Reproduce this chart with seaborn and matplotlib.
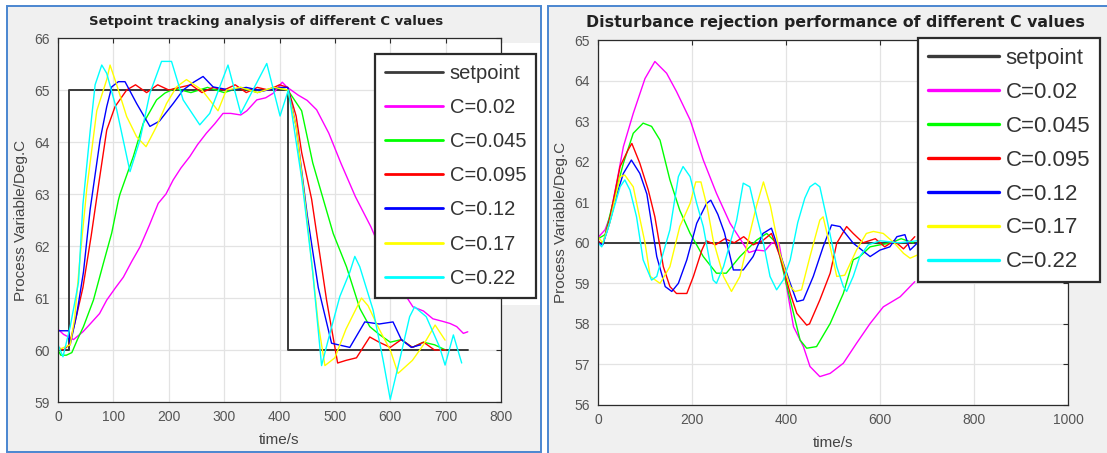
import matplotlib
matplotlib.use("Agg")
import matplotlib.pyplot as plt
import pandas as pd
import seaborn as sns
from matplotlib.lines import Line2D
from matplotlib.patches import Rectangle


# Left panel: setpoint tracking
SP_L_T = [0, 20, 20, 415, 415, 740]
SP_L_V = [60, 60, 65, 65, 60, 60]

MAG_L_T = [0, 10, 28, 45, 58, 75, 88, 104, 118, 133, 148, 165, 181, 195, 208, 222, 238, 252,
           268, 283, 298, 312, 330, 341, 359, 375, 389, 405, 413, 434, 450, 467, 489, 511, 537,
           565, 600, 641, 660, 677, 695, 708, 720, 732, 740]
MAG_L_V = [60.4, 60.3, 60.2, 60.35, 60.5, 60.7, 60.96, 61.2, 61.4, 61.7, 61.98, 62.4, 62.82, 63.0,
           63.27, 63.5, 63.72, 63.95, 64.17, 64.35, 64.55, 64.55, 64.52, 64.6, 64.81, 64.85, 64.94,
           65.15, 65.06, 64.9, 64.8, 64.62, 64.17, 63.59, 62.95, 62.37, 61.5, 60.83, 60.75, 60.6,
           60.55, 60.51, 60.45, 60.32, 60.35]

GRN_L_T = [0, 5, 15, 25, 35, 46, 64, 82, 97, 109, 112, 136, 154, 178, 193, 211, 240, 270, 300,
           330, 360, 390, 415, 440, 460, 479, 497, 521, 545, 563, 580, 600, 620, 640, 660, 680, 700]
GRN_L_V = [60.0, 59.9, 59.9, 59.95, 60.2, 60.45, 60.96, 61.67, 62.25, 62.88, 63.0, 63.72, 64.36,
           64.81, 64.94, 65.03, 64.95, 65.05, 64.95, 65.05, 64.95, 65.05, 65.0, 64.6, 63.6, 62.9,
           62.24, 61.6, 60.8, 60.45, 60.3, 60.15, 60.2, 60.05, 60.15, 60.1, 60.0]

RED_L_T = [0, 10, 20, 30, 45, 60, 75, 88, 103, 124, 140, 160, 180, 200, 220, 240, 260, 280, 300,
           320, 340, 360, 380, 400, 415, 430, 440, 458, 485, 505, 520, 539, 563, 580, 600, 620,
           640, 660, 680, 700]
RED_L_V = [60.05, 60.0, 60.1, 60.5, 61.2, 62.2, 63.3, 64.23, 64.68, 65.0, 65.1, 64.95, 65.1, 65.0,
           65.05, 65.1, 64.95, 65.05, 65.0, 65.1, 64.95, 65.05, 65.0, 65.1, 65.05, 64.5, 63.8,
           62.9, 60.96, 59.75, 59.8, 59.85, 60.25, 60.15, 60.05, 60.2, 60.05, 60.15, 60.0, 60.0]

BLU_L_T = [0, 19, 22, 34, 46, 58, 76, 88, 97, 109, 121, 142, 166, 183, 208, 226, 245, 262, 280,
           310, 340, 370, 400, 415, 430, 450, 470, 494, 527, 554, 580, 605, 620, 638, 655]
BLU_L_V = [60.37, 60.37, 60.1, 60.7, 61.5, 62.7, 64.04, 64.68, 65.06, 65.16, 65.16, 64.74, 64.3,
           64.4, 64.74, 65.0, 65.15, 65.26, 65.06, 65.0, 65.05, 64.98, 65.05, 65.05, 64.3, 62.6,
           61.2, 60.13, 60.05, 60.54, 60.5, 60.54, 60.2, 60.05, 60.1]

YEL_L_T = [0, 22, 30, 40, 52, 70, 88, 94, 106, 124, 142, 159, 178, 196, 214, 232, 260, 289, 304,
           330, 360, 390, 415, 430, 450, 470, 482, 500, 520, 548, 560, 580, 600, 614, 640, 660,
           681, 699]
YEL_L_V = [60.0, 60.1, 60.6, 61.8, 63.1, 64.6, 65.2, 65.48, 65.1, 64.49, 64.1, 63.91, 64.3, 64.74,
           65.06, 65.2, 65.0, 64.6, 65.0, 65.05, 64.95, 65.05, 65.0, 64.3, 62.5, 60.5, 59.7, 59.85,
           60.4, 61.0, 60.85, 60.4, 60.0, 59.55, 59.8, 60.1, 60.48, 60.19]

CYA_L_T = [0, 9, 22, 30, 37, 45, 58, 67, 79, 88, 106, 130, 148, 166, 187, 205, 226, 256, 274,
           307, 330, 377, 401, 416, 440, 460, 476, 491, 509, 527, 536, 545, 569, 587, 600, 617,
           635, 644, 665, 689, 699, 714, 729]
CYA_L_V = [60.1, 59.87, 60.45, 60.9, 61.3, 62.8, 64.2, 65.1, 65.48, 65.32, 64.62, 63.43, 64.04,
           64.94, 65.55, 65.55, 64.81, 64.33, 64.55, 65.48, 64.55, 65.51, 64.5, 65.0, 63.3, 61.5,
           59.7, 60.32, 61.03, 61.5, 61.8, 61.6, 60.77, 59.81, 59.05, 59.81, 60.64, 60.83, 60.64,
           60.06, 59.71, 60.29, 59.75]

# Right panel: disturbance rejection
SP_R_T = [0, 680]
SP_R_V = [60, 60]

MAG_R_T = [0, 15, 26, 40, 54, 75, 100, 121, 146, 167, 196, 224, 252, 281, 295, 321, 338, 355,
           370, 385, 400, 416, 437, 451, 472, 494, 522, 550, 579, 607, 643, 674]
MAG_R_V = [60.13, 60.32, 60.66, 61.5, 62.37, 63.19, 64.05, 64.47, 64.18, 63.73, 63.03, 62.04,
           61.22, 60.48, 60.23, 59.76, 59.82, 59.8, 60.0, 60.0, 59.0, 57.93, 57.44, 56.95, 56.7,
           56.78, 57.03, 57.52, 58.01, 58.42, 58.67, 59.04]

GRN_R_T = [0, 15, 30, 54, 75, 96, 114, 132, 153, 174, 196, 224, 252, 273, 302, 338, 359, 380,
           409, 430, 444, 465, 494, 522, 543, 557, 579, 600, 621, 645, 671]
GRN_R_V = [60.1, 60.2, 60.9, 61.96, 62.7, 62.95, 62.87, 62.53, 61.55, 60.8, 60.23, 59.66, 59.25,
           59.25, 59.66, 60.07, 60.23, 59.99, 58.59, 57.6, 57.4, 57.44, 58.01, 58.75, 59.58, 59.66,
           59.9, 59.95, 59.99, 60.1, 60.0]

RED_R_T = [0, 10, 25, 47, 64, 72, 89, 107, 121, 139, 153, 167, 189, 203, 221, 230, 250, 270, 290,
           310, 330, 350, 369, 387, 409, 423, 444, 450, 472, 494, 508, 529, 543, 564, 590, 610,
           630, 650, 674]
RED_R_V = [60.05, 59.95, 60.6, 61.88, 62.29, 62.45, 61.96, 61.3, 60.64, 59.41, 58.92, 58.75,
           58.75, 59.17, 59.82, 60.05, 59.95, 60.1, 60.0, 60.15, 59.95, 60.05, 60.23, 59.67, 58.75,
           58.26, 57.97, 58.0, 58.59, 59.25, 59.99, 60.4, 60.23, 60.0, 60.1, 59.9, 60.05, 59.85,
           60.15]

BLU_R_T = [0, 10, 25, 40, 54, 71, 89, 104, 115, 125, 143, 157, 171, 189, 210, 231, 240, 255, 269,
           288, 309, 330, 351, 369, 387, 409, 423, 437, 458, 479, 497, 515, 543, 579, 600, 621,
           636, 653, 664, 680]
BLU_R_V = [60.0, 59.95, 60.5, 61.2, 61.71, 62.04, 61.71, 61.2, 60.4, 59.66, 58.92, 58.8, 59.0,
           59.58, 60.48, 60.97, 61.05, 60.7, 60.25, 59.33, 59.33, 59.66, 60.23, 60.36, 59.74, 59.0,
           58.55, 58.59, 59.17, 59.9, 60.44, 60.4, 59.99, 59.66, 59.82, 59.9, 60.15, 60.2, 59.82,
           60.0]

YEL_R_T = [0, 10, 25, 47, 57, 75, 89, 100, 111, 132, 153, 174, 196, 208, 219, 232, 245, 267, 284,
           302, 323, 337, 352, 367, 387, 409, 419, 433, 451, 472, 479, 494, 508, 525, 550, 571,
           586, 607, 630, 650, 664, 680]
YEL_R_V = [60.15, 60.0, 60.5, 61.63, 61.67, 61.38, 60.6, 60.0, 59.17, 59.0, 59.41, 60.4, 60.97,
           61.5, 61.5, 60.9, 60.07, 59.17, 58.8, 59.17, 60.23, 60.9, 61.5, 60.9, 59.74, 58.92,
           58.8, 58.84, 59.66, 60.56, 60.64, 59.9, 59.17, 59.2, 59.82, 60.23, 60.28, 60.23, 60.0,
           59.74, 59.62, 59.7]

CYA_R_T = [0, 8, 20, 35, 47, 57, 68, 82, 96, 114, 125, 140, 153, 171, 181, 196, 210, 224, 245,
           252, 267, 281, 295, 309, 323, 338, 352, 366, 380, 394, 409, 425, 440, 451, 462, 472,
           486, 508, 522, 529, 543, 557, 575, 600, 640, 680]
CYA_R_V = [60.0, 59.9, 60.3, 60.9, 61.38, 61.55, 61.3, 60.64, 59.58, 59.08, 59.17, 59.8, 60.32,
           61.63, 61.88, 61.63, 60.97, 60.4, 59.08, 59.0, 59.41, 59.99, 60.56, 61.47, 61.38, 60.64,
           59.99, 59.17, 58.84, 59.08, 59.58, 60.5, 61.1, 61.38, 61.47, 61.38, 60.64, 59.41, 58.92,
           58.8, 59.17, 59.66, 59.95, 60.05, 60.0, 60.05]

LABELS = ["setpoint", "C=0.02", "C=0.045", "C=0.095", "C=0.12", "C=0.17", "C=0.22"]
COLORS = {
    "setpoint": "#3a3a3a",
    "C=0.02": "#ff00ff",
    "C=0.045": "#00ff00",
    "C=0.095": "#ff0000",
    "C=0.12": "#0000ff",
    "C=0.17": "#ffff00",
    "C=0.22": "#00ffff",
}

W, H = 1107, 453


def to_long(series):
    frames = []
    for label, (t, v) in zip(LABELS[1:], series):
        frames.append(pd.DataFrame({"time": t, "value": v, "curve": label}))
    return pd.concat(frames, ignore_index=True)


def fig_box(x0, y0, x1, y1):
    # pixel box (top-left origin) -> figure fraction rect
    return [x0 / W, 1 - y1 / H, (x1 - x0) / W, (y1 - y0) / H]


def draw_panel(ax, sp_t, sp_v, series, xlim, ylim, xticks, yticks):
    sp = pd.DataFrame({"time": sp_t, "value": sp_v})
    sns.lineplot(data=sp, x="time", y="value", color=COLORS["setpoint"], sort=False,
                 estimator=None, linewidth=1.4, ax=ax)
    df = to_long(series)
    sns.lineplot(data=df, x="time", y="value", hue="curve", hue_order=LABELS[1:],
                 palette=COLORS, sort=False, estimator=None, linewidth=1.0, legend=False, ax=ax)

    ax.set_xlim(*xlim)
    ax.set_ylim(*ylim)
    ax.set_xticks(xticks)
    ax.set_yticks(yticks)
    ax.set_facecolor("white")
    ax.grid(True, color="#e3e3e3", linewidth=0.9)
    ax.set_axisbelow(True)
    for s in ax.spines.values():
        s.set_color("#2b2b2b")
        s.set_linewidth(0.9)
    ax.tick_params(direction="in", length=3.5, top=True, right=True, color="#2b2b2b",
                   labelcolor="#555555", labelsize=10, pad=6)
    ax.set_xlabel("time/s", fontsize=11, color="#444444", labelpad=6)
    ax.set_ylabel("Process Variable/Deg.C", fontsize=11, color="#444444", labelpad=4)


def add_legend(ax, anchor, size, lw, spacing, pad, hlen):
    handles = [Line2D([], [], color=COLORS[l], linewidth=lw) for l in LABELS]
    leg = ax.legend(handles, LABELS, loc="upper left", bbox_to_anchor=anchor,
                    bbox_transform=ax.figure.transFigure, frameon=True, fancybox=False,
                    framealpha=1, edgecolor="#2b2b2b", facecolor="white",
                    borderpad=pad, labelspacing=spacing, handlelength=hlen, handletextpad=0.3,
                    borderaxespad=0,
                    prop={"family": ["Liberation Sans", "DejaVu Sans"], "size": size})
    leg.get_frame().set_linewidth(1.6)
    for t in leg.get_texts():
        t.set_color("#333333")
    return leg


def main():
    sns.set_style("white")
    plt.rcParams["font.family"] = ["Liberation Sans", "DejaVu Sans"]

    fig = plt.figure(figsize=(W / 100, H / 100), dpi=100)
    fig.patch.set_facecolor("white")

    # panel frames, kept behind the axes
    fig.add_artist(Rectangle((7 / W, 1 - 452 / H), 534 / W, 446 / H, transform=fig.transFigure,
                             facecolor="#f0f0f0", edgecolor="#4a86d0", linewidth=1.4,
                             zorder=-10))
    fig.add_artist(Rectangle((548 / W, -0.02), 0.6, 1.02 - 6 / H, transform=fig.transFigure,
                             facecolor="#f0f0f0", edgecolor="#4a86d0", linewidth=1.4,
                             zorder=-10))
    # white strip left by the legend in the left panel
    fig.add_artist(Rectangle((501 / W, 1 - 305 / H), 39 / W, 262 / H, transform=fig.transFigure,
                             facecolor="white", edgecolor="none", zorder=-5))

    ax1 = fig.add_axes(fig_box(58, 38, 501, 402))
    draw_panel(ax1, SP_L_T, SP_L_V,
               [(MAG_L_T, MAG_L_V), (GRN_L_T, GRN_L_V), (RED_L_T, RED_L_V),
                (BLU_L_T, BLU_L_V), (YEL_L_T, YEL_L_V), (CYA_L_T, CYA_L_V)],
               (0, 800), (59, 66), range(0, 801, 100), range(59, 67))
    add_legend(ax1, (375 / W, 1 - 54 / H), 14.5, 2.0, 0.75, 0.5, 2.9)

    ax2 = fig.add_axes(fig_box(598, 40, 1068, 405))
    draw_panel(ax2, SP_R_T, SP_R_V,
               [(MAG_R_T, MAG_R_V), (GRN_R_T, GRN_R_V), (RED_R_T, RED_R_V),
                (BLU_R_T, BLU_R_V), (YEL_R_T, YEL_R_V), (CYA_R_T, CYA_R_V)],
               (0, 1000), (56, 65), range(0, 1001, 200), range(56, 66))
    add_legend(ax2, (918 / W, 1 - 38 / H), 16, 2.4, 0.58, 0.45, 3.2)

    fig.text(266 / W, 1 - 22 / H, "Setpoint tracking analysis of different C values",
             ha="center", va="center", fontsize=9.5, fontweight="bold", color="#222222",
             family=["DejaVu Sans"])
    fig.text(835 / W, 1 - 23 / H,
             "Disturbance rejection performance of different C values",
             ha="center", va="center", fontsize=11.3, fontweight="bold", color="#222222",
             family=["DejaVu Sans"])

    fig.savefig("out.png", dpi=100, facecolor=fig.get_facecolor())


if __name__ == "__main__":
    main()
